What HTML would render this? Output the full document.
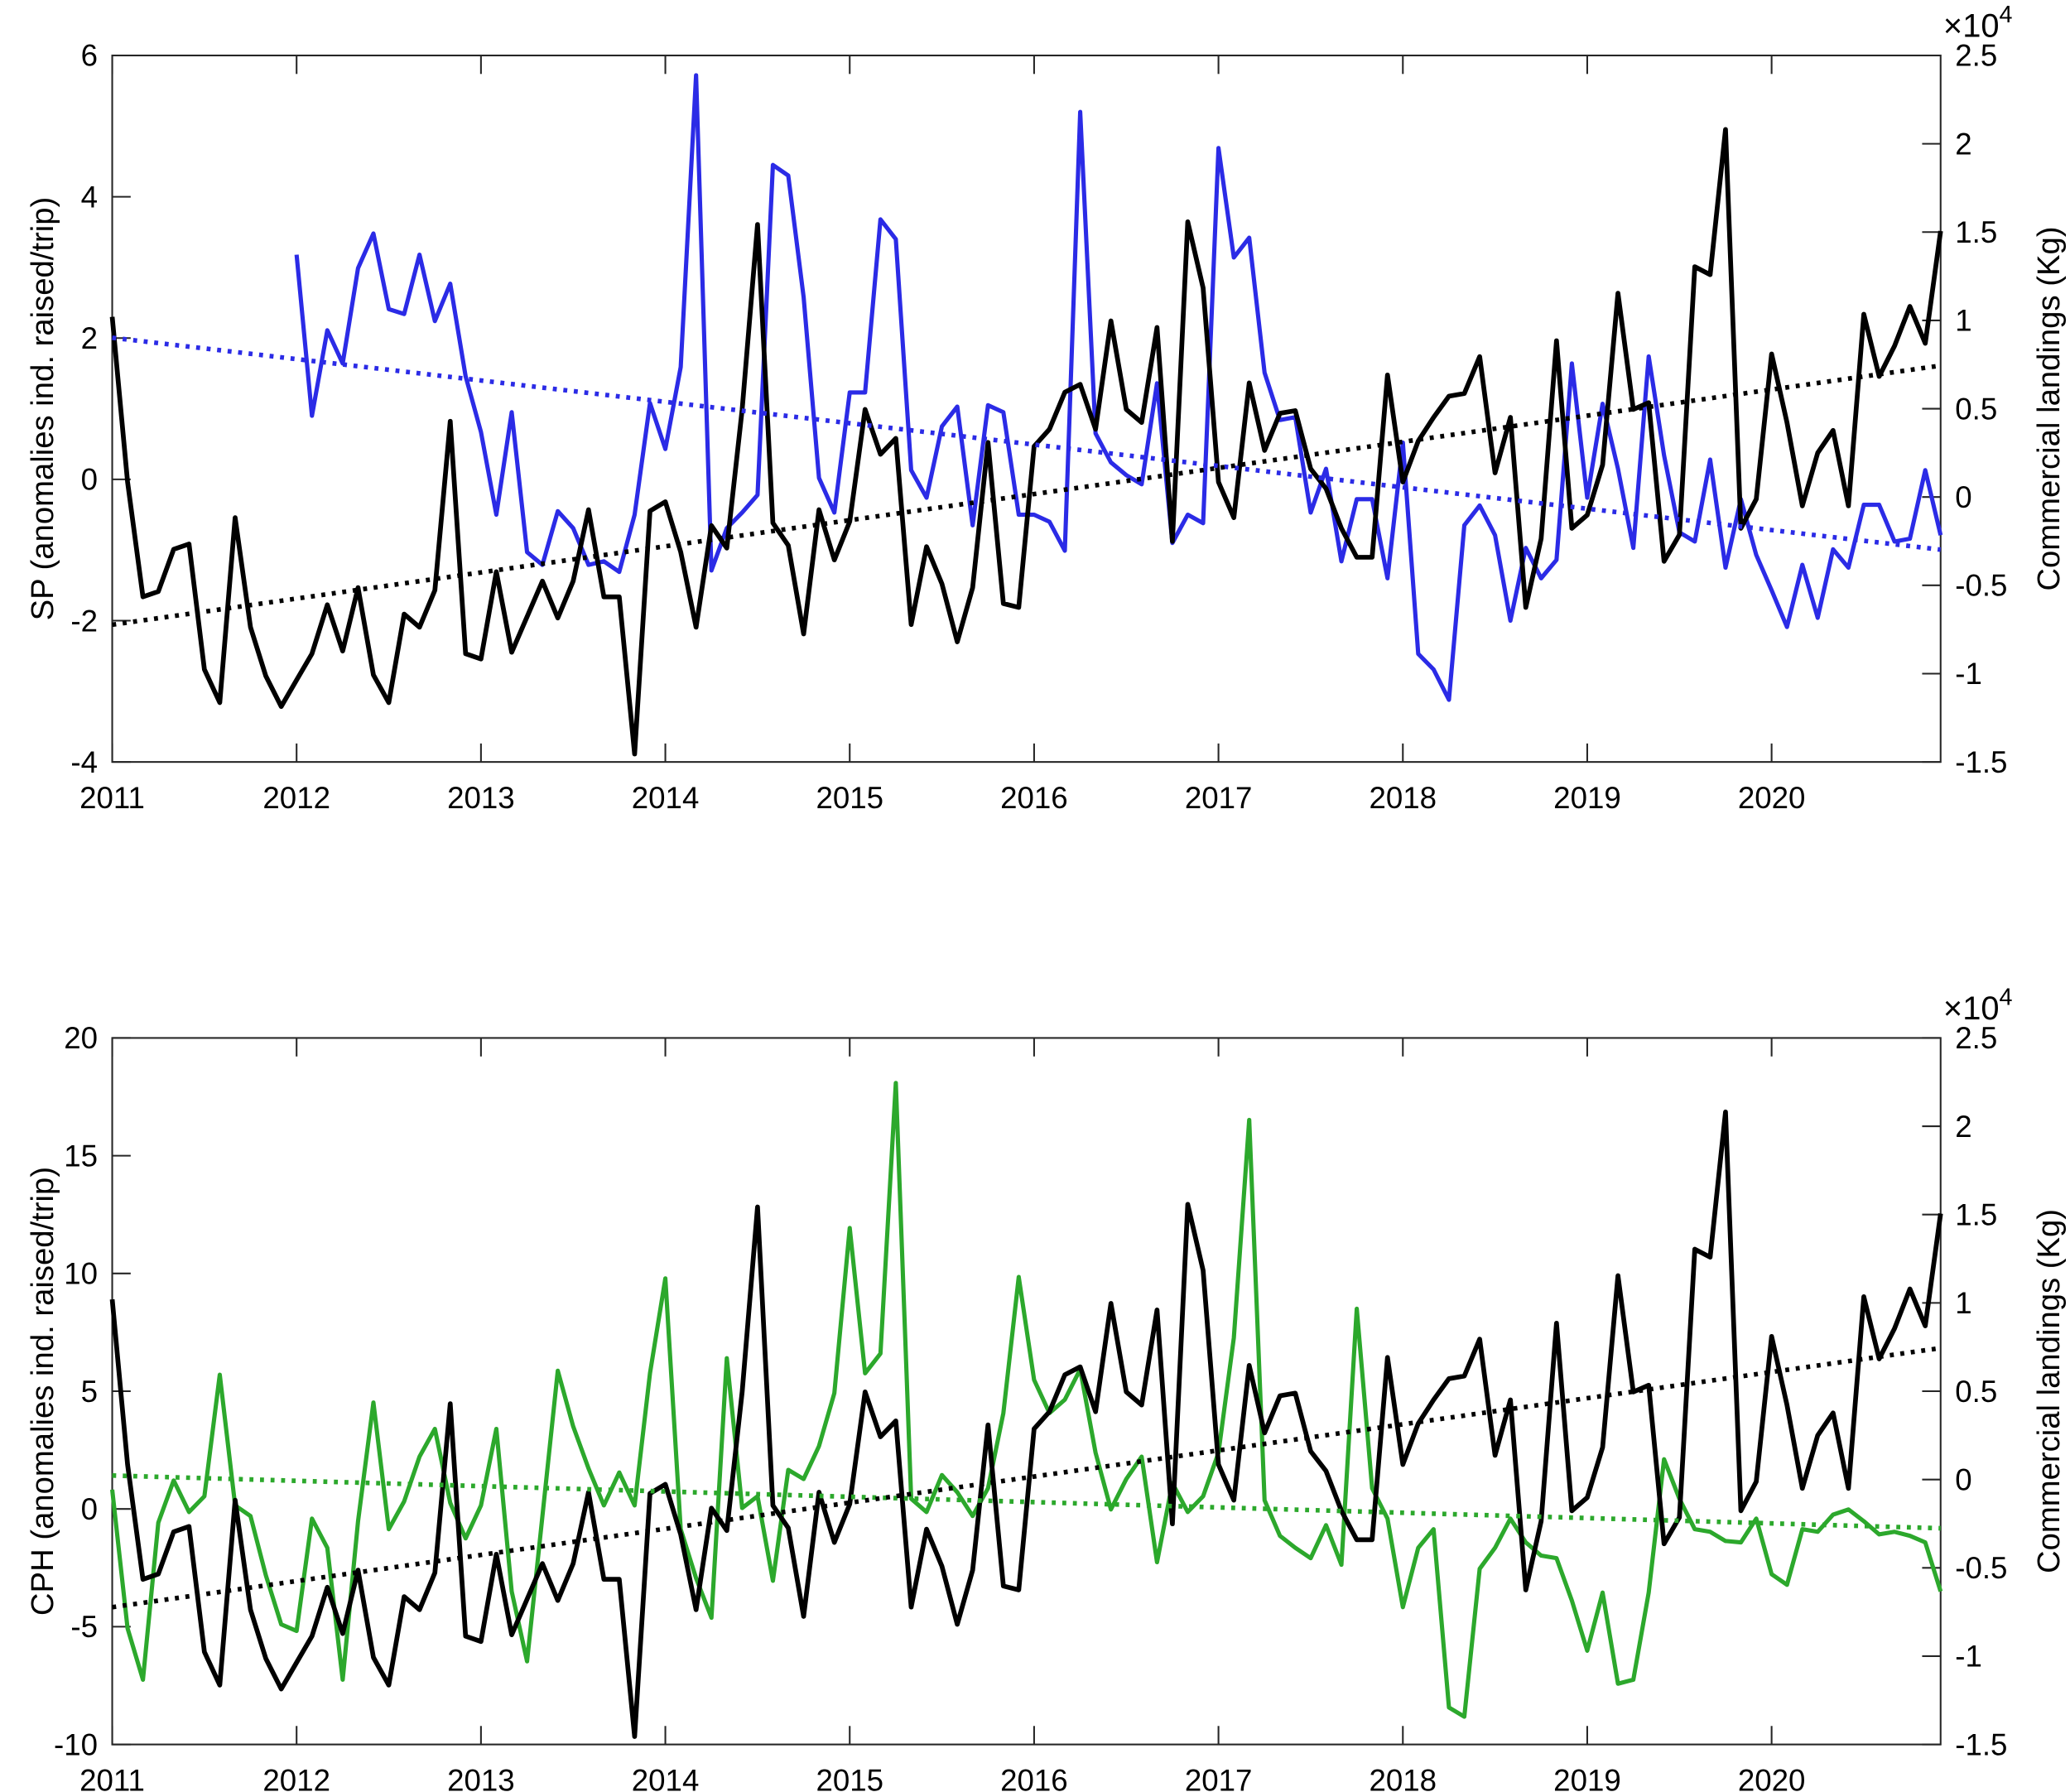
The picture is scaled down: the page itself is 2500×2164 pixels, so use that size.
<!DOCTYPE html>
<html><head><meta charset="utf-8"><style>
html,body{margin:0;padding:0;background:#fff;}
svg{display:block;}
text{font-family:"Liberation Sans",Arial,sans-serif;fill:#000;}
</style></head><body>
<svg id="chart" width="2500" height="2164" viewBox="0 0 1568 1357" preserveAspectRatio="none" xmlns="http://www.w3.org/2000/svg"></svg>
<script>
// Monthly data Jan 2011 .. Dec 2020
const startYear = 2011;
const yearTicks = [2011,2012,2013,2014,2015,2016,2017,2018,2019,2020];
// Commercial landings (x10^4 Kg)
const landings = [1.02,0.085,-0.565,-0.535,-0.296,-0.266,-0.976,-1.164,-0.117,-0.737,-1.014,-1.186,
-1.036,-0.887,-0.61,-0.872,-0.513,-1.007,-1.164,-0.663,-0.737,-0.528,0.429,-0.887,
-0.917,-0.423,-0.879,-0.678,-0.476,-0.685,-0.476,-0.072,-0.565,-0.565,-1.455,-0.079,
-0.027,-0.311,-0.737,-0.162,-0.289,0.496,1.543,-0.147,-0.274,-0.775,-0.072,-0.356,
-0.139,0.496,0.242,0.332,-0.722,-0.281,-0.491,-0.82,-0.513,0.309,-0.603,-0.625,
0.287,0.384,0.593,0.638,0.384,0.997,0.496,0.422,0.96,-0.251,1.558,1.184,
0.085,-0.117,0.646,0.264,0.474,0.489,0.16,0.048,-0.177,-0.341,-0.341,0.691,
0.085,0.317,0.451,0.571,0.586,0.795,0.137,0.451,-0.625,-0.236,0.885,-0.177,
-0.102,0.182,1.154,0.496,0.534,-0.364,-0.214,1.304,1.259,2.081,-0.177,-0.012,
0.81,0.422,-0.05,0.25,0.377,-0.05,1.035,0.683,0.855,1.079,0.87,1.506];
// SP anomalies (starts Jan 2012)
const spStart = 12;
const sp = [3.18,0.90,2.11,1.64,2.99,3.48,2.41,2.34,3.18,2.24,2.77,1.46,
0.67,-0.50,0.95,-1.03,-1.21,-0.45,-0.69,-1.21,-1.16,-1.31,-0.50,1.08,
0.43,1.59,5.72,-1.29,-0.69,-0.47,-0.22,4.45,4.30,2.58,0.02,-0.47,
1.23,1.23,3.68,3.40,0.13,-0.26,0.75,1.03,-0.65,1.05,0.95,-0.50,
-0.50,-0.60,-1.01,5.20,0.65,0.24,0.06,-0.07,1.36,-0.90,-0.50,-0.62,
4.69,3.14,3.42,1.51,0.84,0.88,-0.47,0.15,-1.16,-0.28,-0.28,-1.40,
0.52,-2.47,-2.69,-3.12,-0.65,-0.37,-0.79,-2.00,-0.97,-1.40,-1.14,1.64,
-0.26,1.07,0.15,-0.97,1.74,0.34,-0.75,-0.88,0.28,-1.25,-0.28,-1.07,
-1.57,-2.09,-1.21,-1.96,-0.99,-1.25,-0.36,-0.36,-0.88,-0.84,0.13,-0.79];
// CPH anomalies
const cph = [0.82,-5.07,-7.25,-0.58,1.21,-0.13,0.54,5.7,0.15,-0.30,-2.82,-4.90,
-5.18,-0.41,-1.65,-7.25,-0.52,4.52,-0.86,0.32,2.22,3.40,0.26,-1.25,
0.15,3.40,-3.50,-6.47,-0.30,5.87,3.51,1.72,0.15,1.55,0.15,5.76,
9.79,-0.86,-2.94,-4.62,6.4,0.04,0.54,-3.05,1.66,1.27,2.67,4.92,
11.93,5.76,6.60,18.09,0.43,-0.13,1.44,0.71,-0.30,0.88,4.07,9.85,
5.48,4.07,4.64,5.93,2.39,-0.02,1.27,2.22,-2.26,1.10,-0.13,0.54,
2.39,7.27,16.52,0.37,-1.14,-1.65,-2.09,-0.69,-2.37,8.5,0.88,-0.41,
-4.17,-1.65,-0.86,-8.43,-8.82,-2.54,-1.65,-0.41,-1.42,-1.98,-2.09,-3.89,
-6.02,-3.55,-7.42,-7.25,-3.55,2.11,0.43,-0.86,-0.97,-1.36,-1.42,-0.41,
-2.77,-3.22,-0.86,-0.97,-0.24,-0.02,-0.52,-1.08,-0.97,-1.14,-1.42,-3.50];
const spTicks = [-4,-2,0,2,4,6];
const cphTicks = [-10,-5,0,5,10,15,20];
const rightTicks = [-1.5,-1,-0.5,0,0.5,1,1.5,2,2.5];

const NS = "http://www.w3.org/2000/svg";
const svg = document.getElementById('chart');
function el(tag, attrs, parent){
  const e = document.createElementNS(NS, tag);
  for (const k in attrs) e.setAttribute(k, attrs[k]);
  (parent||svg).appendChild(e);
  return e;
}
const X0 = 85, X1 = 1470;
const T0 = 2011, T1 = 2011 + 119/12;
function xs(t){ return X0 + (t - T0) / (T1 - T0) * (X1 - X0); }
function fit(ts, vs){
  const n = ts.length; let mt=0,mv=0; for(let i=0;i<n;i++){mt+=ts[i];mv+=vs[i];} mt/=n; mv/=n;
  let sxy=0,sxx=0; for(let i=0;i<n;i++){sxy+=(ts[i]-mt)*(vs[i]-mv);sxx+=(ts[i]-mt)**2;}
  const b=sxy/sxx; return t=>mv+b*(t-mt);
}

function panel(cfg){
  const g = el('g', {});
  
  
  const yl = v => cfg.y1 - (v - cfg.lmin)/(cfg.lmax-cfg.lmin)*(cfg.y1-cfg.y0);
  const yr = v => cfg.y1 - (v + 1.5)/4*(cfg.y1-cfg.y0);
  const box = el('rect', {x:X0, y:cfg.y0, width:X1-X0, height:cfg.y1-cfg.y0, fill:'none', stroke:'#262626', 'stroke-width':1.3}, g);
  
  
  yearTicks.forEach(yr_ => {
    const x = xs(yr_);
    el('line', {x1:x, x2:x, y1:cfg.y1, y2:cfg.y1-14, stroke:'#262626','stroke-width':1.3}, g);
    el('line', {x1:x, x2:x, y1:cfg.y0, y2:cfg.y0+14, stroke:'#262626','stroke-width':1.3}, g);
    const t = el('text', {x:x, y:cfg.y1+35, 'font-size':23, 'text-anchor':'middle'}, g);
    t.textContent = yr_;
    
    
  });
  cfg.lticks.forEach(v => {
    const y = yl(v);
    el('line', {x1:X0, x2:X0+14, y1:y, y2:y, stroke:'#262626','stroke-width':1.3}, g);
    const t = el('text', {x:X0-11, y:y+8, 'font-size':23, 'text-anchor':'end'}, g);
    t.textContent = v;
    
    
  });
  rightTicks.forEach(v => {
    const y = yr(v);
    el('line', {x1:X1, x2:X1-14, y1:y, y2:y, stroke:'#262626','stroke-width':1.3}, g);
    const t = el('text', {x:X1+11, y:y+8, 'font-size':23, 'text-anchor':'start'}, g);
    t.textContent = v;
    
    
  });
  const ex = el('text', {x:X1+2, y:cfg.y0-14, 'font-size':25}, g);
  ex.innerHTML = '×10<tspan dy="-11" font-size="18">4</tspan>';
  
  
  const cy = (cfg.y0+cfg.y1)/2;
  const lt = el('text', {x:0, y:0, 'font-size':24, 'text-anchor':'middle', transform:`translate(40,${cy}) rotate(-90)`}, g);
  lt.textContent = cfg.ltitle;
  
  
  const rt = el('text', {x:0, y:0, 'font-size':24, 'text-anchor':'middle', transform:`translate(1560,${cy}) rotate(-90)`}, g);
  rt.textContent = 'Commercial landings (Kg)';
  
  

  const sT = cfg.series.map((v,i)=>startYear + (i+cfg.sStart)/12);
  const sp_ = el('polyline', {points: cfg.series.map((v,i)=>xs(sT[i])+','+yl(v)).join(' '), fill:'none', stroke:cfg.color, 'stroke-width':3.2, 'stroke-linejoin':'round'}, g);
  
  
  const lT = landings.map((v,i)=>startYear + i/12);
  const ln = el('polyline', {points: landings.map((v,i)=>xs(lT[i])+','+yr(v)).join(' '), fill:'none', stroke:'#000', 'stroke-width':3.6, 'stroke-linejoin':'round'}, g);
  
  
  const fs = fit(sT, cfg.series), fl = fit(lT, landings);
  const tr1 = el('line', {x1:X0, x2:X1, y1:yl(fs(T0)), y2:yl(fs(T1)), stroke:cfg.color, 'stroke-width':3.5, 'stroke-dasharray':'3 5'}, g);
  
  
  const tr2 = el('line', {x1:X0, x2:X1, y1:yr(fl(T0)), y2:yr(fl(T1)), stroke:'#000', 'stroke-width':3.5, 'stroke-dasharray':'3 5'}, g);
  
  
}
panel({name:'sp-panel', y0:42, y1:577, lmin:-4, lmax:6, lticks:spTicks, ltitle:'SP (anomalies ind. raised/trip)', series:sp, sStart:spStart, color:'#2b2be6', seriesName:'sp-line'});
panel({name:'cph-panel', y0:786, y1:1321, lmin:-10, lmax:20, lticks:cphTicks, ltitle:'CPH (anomalies ind. raised/trip)', series:cph, sStart:0, color:'#2ca82c', seriesName:'cph-line'});
</script>
</body></html>
